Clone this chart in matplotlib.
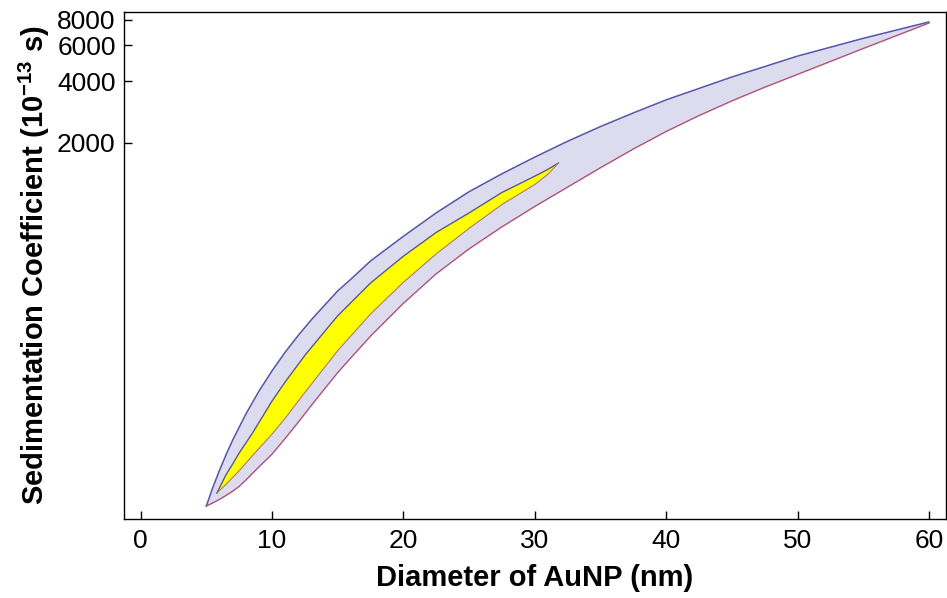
import matplotlib
matplotlib.use("Agg")
import matplotlib.pyplot as plt
from matplotlib.ticker import NullLocator, FixedLocator, FixedFormatter
import numpy as np

plt.rcParams["font.family"] = ["Liberation Sans", "DejaVu Sans"]
plt.rcParams["mathtext.fontset"] = "custom"
plt.rcParams["mathtext.rm"] = "Liberation Sans"
plt.rcParams["mathtext.bf"] = "Liberation Sans:bold"

# outer band (lavender): upper and lower boundary curves
outer_upper_d = [5, 5.5, 6, 6.5, 7, 8, 9, 10, 11, 12, 13, 14, 15, 16, 17.5, 20,
                 22.5, 25, 27.5, 30, 32.5, 35, 37.5, 40, 45, 50, 55, 60]
outer_upper_s = [33, 40.8, 49.4, 58.9, 69.4, 93.1, 120.7, 152, 187.6, 227, 271,
                 319, 375, 428, 526, 695, 906, 1150, 1408, 1700, 2033, 2400,
                 2800, 3245, 4200, 5320, 6500, 7822]
outer_lower_d = [5, 5.5, 6, 6.5, 7, 7.5, 8, 9, 10, 11, 12, 13, 14, 15, 16, 17.5,
                 20, 22.5, 25, 27.5, 30, 32.5, 35, 37.5, 40, 42.5, 45, 47.5, 50,
                 55, 60]
outer_lower_s = [33, 34.2, 35.6, 37.2, 39.0, 41.2, 44.2, 51.3, 59.3, 70.8, 85.1,
                 103, 124, 149, 176, 225, 326, 455, 603, 773, 973, 1211, 1507,
                 1862, 2270, 2716, 3206, 3741, 4325, 5794, 7727]

# inner band (yellow)
inner_upper_d = [5.8, 6.5, 7, 7.5, 8.5, 10, 11, 12.5, 14, 15, 17.5, 20, 22.5,
                 25, 27.5, 30, 31, 31.8]
inner_upper_s = [38.2, 47, 53, 60.1, 75, 108, 134, 181, 237, 283, 410, 555, 726,
                 905, 1140, 1370, 1480, 1590]
inner_lower_d = [5.8, 6.5, 7.5, 8.5, 10, 11, 12.5, 14, 15, 17.5, 20, 22.5, 25,
                 27.5, 30, 31, 31.8]
inner_lower_s = [38.2, 42.2, 49.2, 58.2, 74.3, 89, 119, 158, 191, 289, 413, 570,
                 760, 995, 1247, 1400, 1590]

x_ticks = [0, 10, 20, 30, 40, 50, 60]
y_ticks = [2000, 4000, 6000, 8000]

fig = plt.figure(figsize=(9.47, 5.98), dpi=100)
ax = fig.add_axes([0.131, 0.132, 0.868, 0.848])

# outer band
poly_x = np.concatenate([outer_upper_d, outer_lower_d[::-1]])
poly_y = np.concatenate([outer_upper_s, outer_lower_s[::-1]])
ax.fill(poly_x, poly_y, color="#dcdcee", lw=0)
ax.plot(outer_upper_d, outer_upper_s, color="#5656aa", lw=1.1)
ax.plot(outer_lower_d, outer_lower_s, color="#b0507a", lw=1.0)

# inner band
poly_x = np.concatenate([inner_upper_d, inner_lower_d[::-1]])
poly_y = np.concatenate([inner_upper_s, inner_lower_s[::-1]])
ax.fill(poly_x, poly_y, color="#ffff00", lw=0)
ax.plot(inner_upper_d, inner_upper_s, color="#5a5a86", lw=1.0)
ax.plot(inner_lower_d, inner_lower_s, color="#b07a70", lw=0.8)

ax.set_yscale("log")
ax.set_xlim(-1.26, 61.3)
ax.set_ylim(28.5, 8755)

ax.xaxis.set_major_locator(FixedLocator(x_ticks))
ax.yaxis.set_major_locator(FixedLocator(y_ticks))
ax.yaxis.set_major_formatter(FixedFormatter([str(v) for v in y_ticks]))
ax.yaxis.set_minor_locator(NullLocator())
ax.tick_params(direction="in", length=6, width=1, labelsize=19,
               top=False, right=False)
ax.tick_params(axis="x", pad=7)
ax.tick_params(axis="y", pad=6)
for s in ax.spines.values():
    s.set_linewidth(1.0)

ax.set_xlabel("Diameter of AuNP (nm)", fontsize=21, fontweight="bold", labelpad=8)
ax.set_ylabel("Sedimentation Coefficient (10$^{\\mathbf{-13}}$ s)",
              fontsize=21, fontweight="bold", labelpad=4)

fig.savefig("out.png", dpi=100)
